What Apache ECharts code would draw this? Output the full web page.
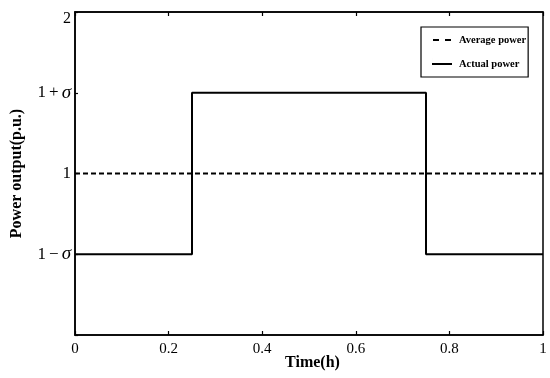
<!DOCTYPE html>
<html>
<head>
<meta charset="utf-8">
<script src="https://cdn.jsdelivr.net/npm/echarts@6/dist/echarts.min.js"></script>
<style>
  html, body { margin: 0; padding: 0; background: #fff; }
  #main { width: 550px; height: 378px; }
</style>
</head>
<body>
<div id="main"></div>
<script>
// time (h) and power (p.u.); sigma drawn at 0.5
const averageTime = [0, 1]
const averagePower = [1, 1]
const actualTime = [0, 0.25, 0.25, 0.75, 0.75, 1]
const actualPower = [0.5, 0.5, 1.5, 1.5, 0.5, 0.5]
const xTicks = [0, 0.2, 0.4, 0.6, 0.8, 1]
const yTickValues = [0.5, 1, 1.5, 2]
const yTickLabels = ['1{o|−}{s|σ}', '1', '1{o|+}{s|σ}', '{t|2}']

const chart = echarts.init(document.getElementById('main'))
const font = "'Liberation Serif', 'DejaVu Serif', serif"

const toPairs = (xs, ys) => xs.map((x, i) => [x, ys[i]])

const option = {
  backgroundColor: '#fff',
  animation: false,
  grid: {
    left: 75,
    right: 7,
    top: 12,
    bottom: 43,
    outerBoundsMode: 'none',
    containLabel: false,
    show: true,
    borderColor: '#000',
    borderWidth: 1.5
  },
  legend: {
    left: 421,
    top: 27,
    width: 107,
    height: 51,
    orient: 'vertical',
    borderColor: '#000',
    borderWidth: 1.2,
    padding: [7, 2, 7, 11],
    itemGap: 12,
    itemWidth: 20,
    itemHeight: 12,
    lineStyle: { opacity: 0 },
    textStyle: { fontFamily: font, fontWeight: 'bold', fontSize: 10.5, color: '#000', padding: [0, 0, 0, 2] },
    data: [
      { name: 'Average power', icon: 'path://M0,5H6V7H0Z M12,5H18V7H12Z M0,0H0.01V12H0Z' },
      { name: 'Actual power', icon: 'path://M0,5H20V7H0Z M0,0H0.01V12H0Z' }
    ],
    itemStyle: { color: '#000', borderWidth: 0 }
  },
  xAxis: [{
    type: 'value',
    min: 0,
    max: 1,
    interval: 0.2,
    name: 'Time(h)',
    nameLocation: 'middle',
    nameGap: 20,
    nameMoveOverlap: false,
    nameTextStyle: { fontFamily: font, fontWeight: 'bold', fontSize: 16, color: '#000', padding: [0, 0, 0, 7] },
    axisLine: { lineStyle: { color: '#000', width: 1.5 } },
    axisTick: { inside: true, length: 4, lineStyle: { color: '#000', width: 1.2 } },
    axisLabel: {
      fontFamily: font, fontSize: 15, color: '#000', margin: 7,
      formatter: v => (xTicks.includes(+v.toFixed(1)) ? String(+v.toFixed(1)) : '')
    },
    splitLine: { show: false }
  }, {
    type: 'value',
    position: 'top',
    min: 0,
    max: 1,
    interval: 0.2,
    axisLine: { lineStyle: { color: '#000', width: 1.5 } },
    axisTick: { inside: true, length: 4, lineStyle: { color: '#000', width: 1.2 } },
    axisLabel: { show: false },
    splitLine: { show: false }
  }],
  yAxis: {
    type: 'value',
    min: 0,
    max: 2,
    interval: 0.5,
    name: 'Power output(p.u.)',
    nameLocation: 'middle',
    nameGap: 50,
    nameMoveOverlap: false,
    nameTextStyle: { fontFamily: font, fontWeight: 'bold', fontSize: 16, color: '#000' },
    axisLine: { lineStyle: { color: '#000', width: 1.5 } },
    axisTick: { inside: true, length: 3, lineStyle: { color: '#000', width: 1.2 } },
    axisLabel: {
      fontFamily: font, fontSize: 17, color: '#000', margin: 4,
      formatter: v => {
        const i = yTickValues.indexOf(v)
        return i >= 0 ? yTickLabels[i] : ''
      },
      rich: {
        o: { fontFamily: font, fontSize: 17, color: '#000', padding: [0, 3, 0, 3] },
        s: { fontFamily: font, fontStyle: 'italic', fontSize: 19, color: '#000' },
        t: { fontFamily: font, fontSize: 16, color: '#000', padding: [13, 0, 0, 0] }
      }
    },
    splitLine: { show: false }
  },
  series: [{
    name: 'Average power',
    type: 'line',
    symbol: 'none',
    data: toPairs(averageTime, averagePower),
    lineStyle: { color: '#000', width: 1.8, type: [5, 3] },
    itemStyle: { color: '#000' }
  }, {
    name: 'Actual power',
    type: 'line',
    symbol: 'none',
    data: toPairs(actualTime, actualPower),
    lineStyle: { color: '#000', width: 2 },
    itemStyle: { color: '#000' }
  }]
}

chart.setOption(option)
</script>
</body>
</html>
